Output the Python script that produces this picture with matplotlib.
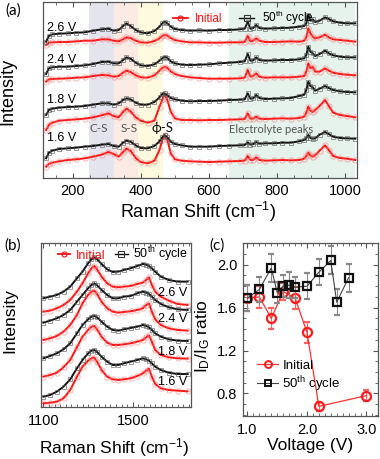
import numpy as np
import matplotlib.pyplot as plt
from matplotlib.ticker import MultipleLocator
from matplotlib.lines import Line2D

plt.rcParams['font.family'] = ['Liberation Sans', 'DejaVu Sans']
plt.rcParams['mathtext.fontset'] = 'custom'
plt.rcParams['mathtext.rm'] = 'Liberation Sans'
plt.rcParams['mathtext.it'] = 'Liberation Sans:italic'

# ---- (a) low-wavenumber spectra, stacked (a.u.) ----
shift_a = [122, 130, 140, 160, 185, 210, 235, 260, 285, 305,
           320, 335, 348, 358, 370, 385, 400, 420, 440, 455,
           463, 470, 478, 488, 500, 520, 545, 570, 600, 630,
           660, 690, 705, 714, 722, 730, 739, 748, 765, 790,
           815, 840, 865, 880, 886, 892, 898, 905, 912, 925,
           941, 952, 965, 985, 1005, 1030]

cyc_26 = [415, 432, 437, 439, 440, 442, 443, 448, 452, 454,
          448, 450, 462, 470, 462, 450, 443, 440, 447, 460,
          470, 475, 470, 460, 453, 450, 448, 449, 448, 450,
          450, 452, 454, 474, 454, 456, 465, 456, 454, 455,
          456, 457, 460, 462, 470, 496, 478, 482, 474, 478,
          488, 483, 476, 472, 470, 470]
ini_26 = [405, 412, 413, 414, 414, 416, 418, 418, 422, 422,
          418, 416, 422, 428, 426, 418, 413, 412, 417, 425,
          432, 436, 433, 426, 420, 416, 413, 413, 412, 412,
          413, 413, 414, 432, 416, 418, 425, 418, 414, 414,
          415, 416, 415, 418, 428, 455, 440, 430, 425, 428,
          436, 428, 422, 420, 418, 415]
cyc_24 = [318, 335, 338, 340, 340, 342, 344, 348, 354, 355,
          350, 350, 360, 368, 364, 352, 344, 342, 347, 358,
          365, 370, 366, 356, 350, 346, 345, 346, 347, 350,
          352, 354, 356, 378, 358, 359, 368, 360, 358, 359,
          360, 360, 362, 365, 375, 400, 385, 380, 372, 378,
          388, 380, 374, 370, 368, 368]
ini_24 = [295, 302, 303, 304, 305, 307, 308, 312, 315, 314,
          310, 312, 322, 328, 324, 314, 308, 307, 314, 328,
          336, 340, 336, 326, 318, 312, 308, 306, 304, 304,
          304, 305, 307, 330, 310, 312, 320, 310, 307, 308,
          308, 308, 310, 312, 325, 350, 335, 340, 325, 325,
          335, 328, 322, 318, 316, 314]
cyc_18 = [195, 210, 214, 217, 219, 220, 222, 226, 230, 230,
          226, 230, 240, 245, 242, 232, 226, 226, 234, 248,
          258, 260, 254, 246, 242, 238, 236, 237, 237, 238,
          240, 241, 242, 260, 244, 245, 255, 246, 243, 244,
          245, 246, 252, 256, 270, 295, 282, 278, 268, 274,
          282, 276, 270, 266, 264, 263]
ini_18 = [150, 165, 172, 178, 180, 182, 184, 188, 194, 200,
          192, 188, 204, 214, 206, 188, 178, 172, 178, 220,
          240, 258, 240, 205, 185, 180, 180, 179, 180, 180,
          181, 182, 183, 200, 184, 184, 190, 184, 183, 184,
          185, 184, 186, 190, 202, 220, 208, 204, 210, 222,
          240, 222, 202, 195, 192, 188]
cyc_16 = [65, 82, 88, 93, 95, 97, 100, 102, 106, 108,
          102, 100, 112, 118, 115, 104, 96, 95, 102, 116,
          128, 134, 128, 115, 108, 104, 100, 100, 100, 102,
          103, 104, 105, 113, 106, 108, 114, 109, 110, 110,
          112, 112, 116, 120, 126, 135, 126, 124, 125, 136,
          144, 138, 130, 126, 125, 124]
ini_16 = [40, 48, 52, 56, 60, 62, 65, 70, 76, 84,
          78, 70, 84, 94, 88, 66, 54, 50, 58, 90,
          120, 135, 120, 80, 62, 58, 56, 55, 54, 55,
          56, 57, 58, 72, 60, 60, 68, 60, 58, 59,
          60, 59, 60, 64, 72, 82, 74, 70, 74, 88,
          104, 90, 72, 66, 64, 60]

volt_labels = ['2.6 V', '2.4 V', '1.8 V', '1.6 V']
volt_label_y_a = [455, 360, 240, 125]

# bands (cm-1)
band_names = ['C-S', 'S-S', 'ϕ-S']
band_lo = [249, 320, 392]
band_hi = [320, 392, 464]
band_cols = ['#e4e4ef', '#fbebe3', '#fefadf']
electro_lo, electro_hi = 659, 1030

# ---- (b) D/G region spectra ----
shift_b = [1100, 1130, 1160, 1190, 1220, 1250, 1275, 1300, 1315, 1328,
           1340, 1360, 1385, 1410, 1435, 1460, 1490, 1520, 1545, 1560,
           1572, 1585, 1600, 1625, 1660, 1700, 1745]
dg_cyc_26 = [335, 340, 345, 355, 370, 395, 415, 440, 452, 458, 452, 438, 422, 414,
             415, 420, 425, 432, 438, 436, 432, 425, 415, 400, 390, 385, 385]
dg_ini_26 = [295, 298, 305, 315, 330, 355, 380, 410, 425, 432, 422, 400, 380, 370,
             368, 370, 372, 378, 382, 390, 398, 375, 355, 340, 328, 318, 315]
dg_cyc_24 = [262, 268, 275, 285, 300, 325, 345, 365, 375, 380, 374, 360, 345, 335,
             335, 340, 342, 350, 355, 352, 348, 340, 330, 318, 308, 302, 300]
dg_ini_24 = [210, 215, 222, 235, 255, 285, 320, 345, 355, 358, 348, 325, 305, 295,
             292, 294, 296, 300, 305, 315, 320, 295, 272, 255, 245, 240, 238]
dg_cyc_18 = [155, 162, 170, 182, 200, 230, 255, 272, 280, 282, 278, 265, 250, 240,
             238, 242, 246, 250, 255, 252, 248, 240, 230, 220, 212, 208, 207]
dg_ini_18 = [100, 105, 112, 128, 150, 188, 220, 240, 250, 252, 242, 220, 202, 195,
             195, 197, 200, 205, 210, 218, 224, 205, 180, 165, 158, 155, 154]
dg_cyc_16 = [40, 45, 55, 70, 92, 125, 150, 170, 178, 180, 174, 160, 145, 135,
             135, 140, 145, 150, 155, 152, 148, 140, 130, 120, 112, 108, 108]
dg_ini_16 = [20, 22, 25, 35, 60, 100, 130, 148, 155, 157, 145, 120, 100, 92,
             90, 92, 95, 102, 110, 118, 124, 100, 78, 65, 60, 58, 56]
volt_label_y_b = [350, 272, 175, 85]
ticks_b = [1100, 1500]

# ---- (c) ID/IG ratio ----
v_ini = [1.0, 1.2, 1.4, 1.6, 1.8, 2.0, 2.2, 3.0]
r_ini = [1.69, 1.70, 1.50, 1.75, 1.69, 1.37, 0.68, 0.78]
e_ini = [0.12, 0.10, 0.10, 0.08, 0.10, 0.10, 0.04, 0.05]
v_cyc = [1.0, 1.2, 1.4, 1.5, 1.6, 1.7, 1.8, 2.0, 2.2, 2.4, 2.5, 2.7]
r_cyc = [1.69, 1.77, 1.97, 1.74, 1.80, 1.81, 1.79, 1.80, 1.93, 2.04, 1.65, 1.88]
e_cyc = [0.12, 0.12, 0.13, 0.10, 0.10, 0.12, 0.10, 0.12, 0.12, 0.13, 0.12, 0.13]

RED = '#ff1010'
PINK = (1.0, 0.45, 0.45, 0.55)
GREY = (0.35, 0.35, 0.35, 0.7)


def spectrum(ax, x, y, initial):
    if initial:
        ax.plot(x, y, color=RED, lw=1.4, marker='o', ms=3.8, mfc='none',
                mec=PINK, mew=0.7)
    else:
        ax.plot(x, y, color='#111111', lw=1.4, marker='s', ms=2.8, mfc='none',
                mec=GREY, mew=0.6)


def style(ax):
    for s in ax.spines.values():
        s.set_color('#555555')
        s.set_linewidth(0.9)
    ax.tick_params(which='both', direction='in', top=True, color='#555555',
                   labelsize=10.5, pad=4)
    ax.tick_params(which='major', length=3.5)
    ax.tick_params(which='minor', length=2)


def leg_handles():
    return [Line2D([], [], color=RED, lw=1.3, marker='o', ms=3.6, mfc='none', mec=RED, mew=0.8),
            Line2D([], [], color='#111111', lw=1.0, marker='s', ms=4, mfc='none',
                   mec='#333333', mew=0.8)]


fig = plt.figure(figsize=(3.8, 4.59), dpi=100)

# ------------------ (a) ------------------
ax = fig.add_axes([0.1124, 0.6122, 0.8263, 0.3834])
for lo, hi, c in zip(band_lo, band_hi, band_cols):
    ax.axvspan(lo, hi, color=c, lw=0, zorder=0)
ax.axvspan(electro_lo, electro_hi, color='#e5f3ec', lw=0, zorder=0)

pairs_a = [(cyc_26, ini_26), (cyc_24, ini_24), (cyc_18, ini_18), (cyc_16, ini_16)]
for cyc, ini in pairs_a:
    spectrum(ax, shift_a, ini, True)
    spectrum(ax, shift_a, cyc, False)
for lab, yy in zip(volt_labels, volt_label_y_a):
    ax.text(124, yy, lab, fontsize=9, ha='left', va='center')

band_x = [276, 366, 463]
for name, bx in zip(band_names, band_x):
    if name == 'ϕ-S':
        ax.text(bx, 155, name, fontsize=9.5, ha='center', va='center',
                color='#111111', family=['Lato', 'DejaVu Sans'])
    else:
        ax.text(bx, 155, name, fontsize=8.5, ha='center', va='center',
                color='#555555', family=['Lato', 'DejaVu Sans'])
ax.text(660, 152, 'Electrolyte peaks', fontsize=8, ha='left', va='center',
        color='#555555', family=['Lato', 'DejaVu Sans'])

ax.set_xlim(112, 1034)
ax.set_ylim(6, 534)
ax.set_yticks([])
ax.xaxis.set_major_locator(MultipleLocator(200))
ax.xaxis.set_minor_locator(MultipleLocator(50))
style(ax)
leg = ax.legend(leg_handles(), ['Initial', r'50$^{\mathrm{th}}$ cycle'], ncol=2,
                loc='upper left', bbox_to_anchor=(0.38, 1.02), frameon=False,
                fontsize=8.5, handlelength=1.3, handletextpad=0.6,
                columnspacing=1.4)
leg.get_texts()[0].set_color(RED)

# ------------------ (b) ------------------
bx_ = fig.add_axes([0.1071, 0.114, 0.3955, 0.356])
pairs_b = [(dg_cyc_26, dg_ini_26), (dg_cyc_24, dg_ini_24),
           (dg_cyc_18, dg_ini_18), (dg_cyc_16, dg_ini_16)]
for cyc, ini in pairs_b:
    spectrum(bx_, shift_b, ini, True)
    spectrum(bx_, shift_b, cyc, False)
for lab, yy in zip(volt_labels, volt_label_y_b):
    bx_.text(1742, yy, lab, fontsize=9, ha='right', va='center')
bx_.set_xlim(1088, 1760)
bx_.set_ylim(10, 500)
bx_.set_yticks([])
bx_.set_xticks(ticks_b)
bx_.xaxis.set_minor_locator(MultipleLocator(25))
style(bx_)
bx_.tick_params(axis='x', pad=5)
leg = bx_.legend(leg_handles(), ['Initial', r'50$^{\mathrm{th}}$ cycle'], ncol=2,
                 loc='upper left', bbox_to_anchor=(0.04, 1.06), frameon=False,
                 fontsize=9, handlelength=1.0, handletextpad=0.4,
                 columnspacing=0.8)
leg.get_texts()[0].set_color(RED)

# ------------------ (c) ------------------
cx = fig.add_axes([0.6387, 0.0937, 0.357, 0.3763])
cx.errorbar(v_ini, r_ini, yerr=e_ini, color='#ff3030', lw=0.9, marker='o', ms=6.5,
            mfc='none', mec='#ff1a1a', mew=1.6, ecolor='#ff6060', elinewidth=0.8,
            capsize=2.2, zorder=3)
cx.errorbar(v_cyc, r_cyc, yerr=e_cyc, color='#444444', lw=0.8, marker='s', ms=6,
            mfc='none', mec='#111111', mew=1.6, ecolor='#888888', elinewidth=0.8,
            capsize=2.2, zorder=4)
cx.set_xlim(0.92, 3.2)
cx.set_ylim(0.59, 2.2)
cx.xaxis.set_major_locator(MultipleLocator(1.0))
cx.xaxis.set_minor_locator(MultipleLocator(0.1))
cx.yaxis.set_major_locator(MultipleLocator(0.4))
cx.yaxis.set_minor_locator(MultipleLocator(0.1))
cx.xaxis.set_major_formatter(lambda v, p: f'{v:.1f}')
cx.yaxis.set_major_formatter(lambda v, p: f'{v:.1f}')
style(cx)
cx.tick_params(which='both', right=True)
cx.tick_params(axis='x', pad=5)
c_handles = [Line2D([], [], color='#ff3030', lw=0.9, marker='o', ms=5, mfc='none',
                    mec='#ff1a1a', mew=1.4),
             Line2D([], [], color='#444444', lw=0.8, marker='s', ms=5, mfc='none',
                    mec='#111111', mew=1.4)]
cx.legend(c_handles, ['Initial', r'50$^{\mathrm{th}}$ cycle'], loc='lower left',
          bbox_to_anchor=(0.02, 0.06), frameon=False, fontsize=9.5,
          handlelength=1.6, handletextpad=0.3, labelspacing=0.2)

# labels
fig.text(0.034, 0.978, '(a)', fontsize=11, ha='center', va='center',
         family=['Lato', 'DejaVu Sans'])
fig.text(0.034, 0.466, '(b)', fontsize=11, ha='center', va='center',
         family=['Lato', 'DejaVu Sans'])
fig.text(0.571, 0.466, '(c)', fontsize=11, ha='center', va='center',
         family=['Lato', 'DejaVu Sans'])
fig.text(0.021, 0.80, 'Intensity', fontsize=13, rotation=90, ha='center', va='center')
fig.text(0.52, 0.538, r'Raman Shift (cm$^{\mathrm{-1}}$)', fontsize=13,
         ha='center', va='center')
fig.text(0.026, 0.301, 'Intensity', fontsize=12.5, rotation=90, ha='center', va='center')
fig.text(0.30, 0.024, r'Raman Shift (cm$^{\mathrm{-1}}$)', fontsize=12.5,
         ha='center', va='center')
fig.text(0.532, 0.268, r'I$_{\mathrm{D}}$/I$_{\mathrm{G}}$ ratio', fontsize=12.5,
         rotation=90, ha='center', va='center')
fig.text(0.816, 0.03, 'Voltage (V)', fontsize=12.5, ha='center', va='center')

fig.savefig('out.png', dpi=100)
